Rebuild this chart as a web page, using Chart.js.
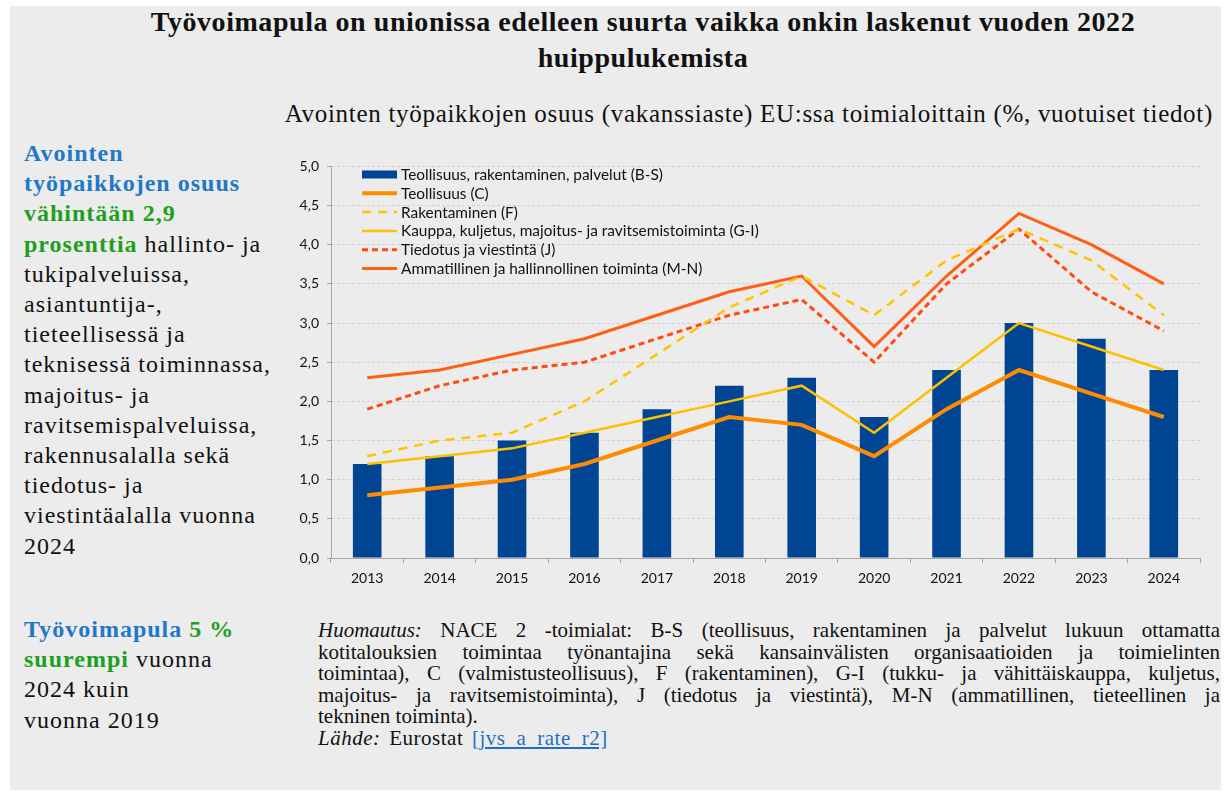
<!DOCTYPE html>
<html lang="fi">
<head>
<meta charset="utf-8">
<script src="https://cdn.jsdelivr.net/npm/chart.js@4"></script>
<style>
  html, body { margin: 0; padding: 0; background: #fff; }
  body { width: 1225px; height: 793px; position: relative; overflow: hidden; }
  .panel { position: absolute; left: 10px; top: 6px; width: 1211px; height: 784px; background: #ececec; }
  .serif { font-family: "Liberation Serif", "Times New Roman", serif; color: #111; }
  #title { position: absolute; left: 0; top: 4px; width: 1286px; text-align: center; font-weight: bold; font-size: 28px; letter-spacing: 0.55px; line-height: 36px; }
  #subtitle { position: absolute; right: 12px; top: 100px; font-size: 25px; letter-spacing: 0.7px; white-space: nowrap; }
  .side { position: absolute; left: 24px; font-size: 24px; letter-spacing: 1px; line-height: 30.2px; white-space: nowrap; }
  .blue { color: #1f78c8; font-weight: bold; }
  .green { color: #1ea01e; font-weight: bold; }
  #note { position: absolute; left: 318px; top: 620px; width: 902px; font-size: 21px; line-height: 21.6px; }
  #note .j { text-align: justify; text-align-last: justify; white-space: nowrap; }
  #note .src { letter-spacing: 0.5px; word-spacing: 3px; }
  #note a { color: #1f6fc8; text-decoration: underline; }
  #wrap { position: absolute; left: 280px; top: 150px; width: 925px; height: 440px; }
</style>
</head>
<body>
<div class="panel"></div>
<div id="title" class="serif">Työvoimapula on unionissa edelleen suurta vaikka onkin laskenut vuoden 2022<br>huippulukemista</div>
<div id="subtitle" class="serif">Avointen työpaikkojen osuus (vakanssiaste) EU:ssa toimialoittain (%, vuotuiset tiedot)</div>

<div class="side serif" style="top:138px">
  <span class="blue">Avointen</span><br>
  <span class="blue">työpaikkojen osuus</span><br>
  <span class="green">vähintään 2,9</span><br>
  <span class="green">prosenttia</span> hallinto- ja<br>
  tukipalveluissa,<br>
  asiantuntija-,<br>
  tieteellisessä ja<br>
  teknisessä toiminnassa,<br>
  majoitus- ja<br>
  ravitsemispalveluissa,<br>
  rakennusalalla sekä<br>
  tiedotus- ja<br>
  viestintäalalla vuonna<br>
  2024
</div>

<div class="side serif" style="top:614px">
  <span class="blue">Työvoimapula</span> <span class="green">5 %</span><br>
  <span class="green">suurempi</span> vuonna<br>
  2024 kuin<br>
  vuonna 2019
</div>

<div id="note" class="serif">
  <div class="j"><i>Huomautus:</i> NACE 2 -toimialat: B-S (teollisuus, rakentaminen ja palvelut lukuun ottamatta</div>
  <div class="j">kotitalouksien toimintaa työnantajina sekä kansainvälisten organisaatioiden ja toimielinten</div>
  <div class="j">toimintaa), C (valmistusteollisuus), F (rakentaminen), G-I (tukku- ja vähittäiskauppa, kuljetus,</div>
  <div class="j">majoitus- ja ravitsemistoiminta), J (tiedotus ja viestintä), M-N (ammatillinen, tieteellinen ja</div>
  <div>tekninen toiminta).</div>
  <div class="src"><i>Lähde:</i> Eurostat <a>[jvs_a_rate_r2]</a></div>
</div>

<div id="wrap"><canvas id="chart"></canvas></div>

<script>
// years on the x axis
const years = ['2013', '2014', '2015', '2016', '2017', '2018', '2019', '2020', '2021', '2022', '2023', '2024'];

// vacancy rate, %
const totalBS = [1.2, 1.3, 1.5, 1.6, 1.9, 2.2, 2.3, 1.8, 2.4, 3.0, 2.8, 2.4];
const industryC = [0.8, 0.9, 1.0, 1.2, 1.5, 1.8, 1.7, 1.3, 1.9, 2.4, 2.1, 1.8];
const constructionF = [1.3, 1.5, 1.6, 2.0, 2.6, 3.2, 3.6, 3.1, 3.8, 4.2, 3.8, 3.1];
const tradeGI = [1.2, 1.3, 1.4, 1.6, 1.8, 2.0, 2.2, 1.6, 2.3, 3.0, 2.7, 2.4];
const infoJ = [1.9, 2.2, 2.4, 2.5, 2.8, 3.1, 3.3, 2.5, 3.5, 4.2, 3.4, 2.9];
const professionalMN = [2.3, 2.4, 2.6, 2.8, 3.1, 3.4, 3.6, 2.7, 3.6, 4.4, 4.0, 3.5];

const labels = [
  'Teollisuus, rakentaminen, palvelut (B-S)',
  'Teollisuus (C)',
  'Rakentaminen (F)',
  'Kauppa, kuljetus, majoitus- ja ravitsemistoiminta (G-I)',
  'Tiedotus ja viestintä (J)',
  'Ammatillinen ja hallinnollinen toiminta (M-N)'
];

const FONT = 'Lato, "Open Sans", sans-serif';

function line(label, data, color, width, dash) {
  return {
    type: 'line', label, data,
    borderColor: color, backgroundColor: color,
    borderWidth: width, borderDash: dash || [],
    pointRadius: 0, tension: 0, fill: false, order: 1
  };
}

// legend drawn inside the plot area, one column
const innerLegend = {
  id: 'innerLegend',
  afterDatasetsDraw(chart) {
    const ctx = chart.ctx;
    const x0 = chart.chartArea.left + 31;
    let y = 174.5 - 150;
    ctx.save();
    ctx.font = '15.4px ' + FONT;
    ctx.textBaseline = 'middle';
    chart.data.datasets.forEach(ds => {
      if (ds.type === 'bar') {
        ctx.fillStyle = ds.backgroundColor;
        ctx.fillRect(x0, y - 4, 35, 8);
      } else {
        ctx.strokeStyle = ds.borderColor;
        ctx.lineWidth = ds.borderWidth;
        ctx.setLineDash(ds.borderDash);
        ctx.beginPath();
        ctx.moveTo(x0, y);
        ctx.lineTo(x0 + 35, y);
        ctx.stroke();
        ctx.setLineDash([]);
      }
      ctx.fillStyle = '#111';
      ctx.fillText(ds.label, x0 + 39, y + 0.5);
      y += 18.8;
    });
    ctx.restore();
  }
};

new Chart(document.getElementById('chart'), {
  data: {
    labels: years,
    datasets: [
      {
        type: 'bar', label: labels[0], data: totalBS,
        backgroundColor: '#004494', borderWidth: 0,
        barPercentage: 0.395, categoryPercentage: 1, order: 10
      },
      line(labels[1], industryC, '#ff8c00', 4),
      line(labels[2], constructionF, '#ffc400', 2.5, [9, 7]),
      line(labels[3], tradeGI, '#ffc000', 2.5),
      line(labels[4], infoJ, '#ff4a10', 3, [6, 4]),
      line(labels[5], professionalMN, '#ff5f14', 3)
    ]
  },
  options: {
    responsive: true,
    maintainAspectRatio: false,
    animation: false,
    layout: { padding: { top: 10, right: 5, left: 0, bottom: 0 } },
    plugins: {
      legend: { display: false },
      tooltip: { enabled: false }
    },
    scales: {
      x: {
        offset: true,
        grid: { offset: true, drawOnChartArea: false, drawTicks: true, tickLength: 5, color: '#a6a6a6' },
        border: { color: '#a6a6a6', width: 1 },
        ticks: { color: '#111', font: { family: FONT, size: 14 }, padding: 7, maxRotation: 0 },
        afterFit(scale) { scale.height = 32; }
      },
      y: {
        min: 0, max: 5,
        ticks: {
          stepSize: 0.5, color: '#111', padding: 8,
          font: { family: FONT, size: 14 },
          callback: v => v.toFixed(1).replace('.', ',')
        },
        grid: { color: '#d2d2d2', drawTicks: true, tickLength: 4, tickColor: '#a6a6a6' },
        border: { color: '#a6a6a6', width: 1, dash: [3, 2] },
        afterFit(scale) { scale.width = 51; }
      }
    }
  },
  plugins: [innerLegend]
});
</script>
</body>
</html>
